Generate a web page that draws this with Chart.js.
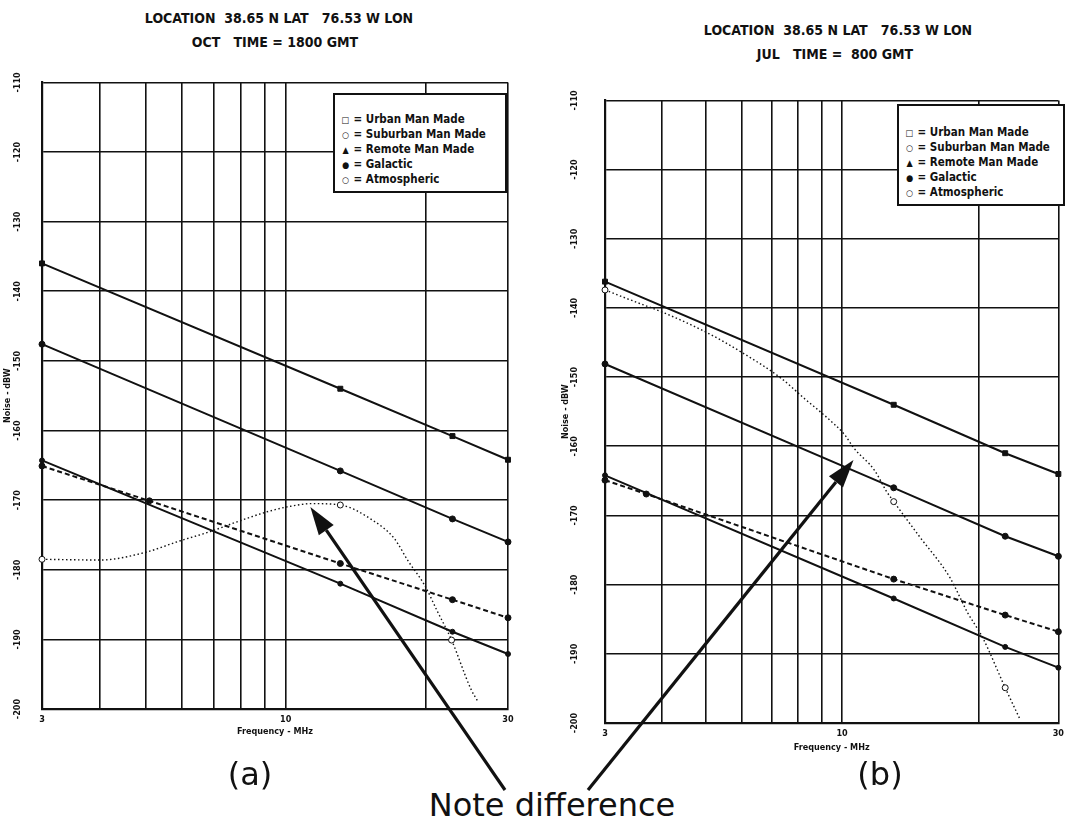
<!DOCTYPE html>
<html><head><meta charset="utf-8">
<script src="https://cdn.jsdelivr.net/npm/chart.js@4.4.0/dist/chart.umd.min.js"></script>
<style>
body{margin:0;background:#fff;width:1069px;height:834px;position:relative;overflow:hidden;font-family:"DejaVu Sans Condensed","Liberation Sans Narrow",sans-serif;color:#111;}
.wrap{position:absolute;}
.title{position:absolute;font-weight:bold;font-size:14px;white-space:pre;text-align:center;width:400px;}
.legend{position:absolute;background:#fff;border:2px solid #111;font-weight:bold;font-size:11.5px;line-height:14px;white-space:pre;box-sizing:border-box;padding-left:6px;}
.legend .s{font-size:9px;display:inline-block;width:9px;text-align:center;}
.cap{position:absolute;font-family:"DejaVu Sans",sans-serif;font-size:32px;white-space:pre;text-align:center;}
svg{position:absolute;left:0;top:0;pointer-events:none;}
</style></head><body>

<div class="title" style="left:79px;top:10px;">LOCATION  38.65 N LAT   76.53 W LON</div>
<div class="title" style="left:75px;top:34px;">OCT   TIME = 1800 GMT</div>
<div class="title" style="left:638px;top:22px;">LOCATION  38.65 N LAT   76.53 W LON</div>
<div class="title" style="left:635px;top:46px;">JUL   TIME =  800 GMT</div>

<div class="wrap" style="left:0px;top:63px;width:520px;height:700px;"><canvas id="chartA" width="520" height="700"></canvas></div>
<div class="wrap" style="left:560px;top:75px;width:509px;height:700px;"><canvas id="chartB" width="509" height="700"></canvas></div>

<div class="legend" style="left:333px;top:93px;width:174px;height:100px;padding-top:17px;"><span class="s">□</span> = Urban Man Made
<span class="s">○</span> = Suburban Man Made
<span class="s">▲</span> = Remote Man Made
<span class="s">●</span> = Galactic
<span class="s">○</span> = Atmospheric</div>
<div class="legend" style="left:897px;top:104px;width:168px;height:102px;padding-top:19px;"><span class="s">□</span> = Urban Man Made
<span class="s">○</span> = Suburban Man Made
<span class="s">▲</span> = Remote Man Made
<span class="s">●</span> = Galactic
<span class="s">○</span> = Atmospheric</div>

<div class="cap" style="left:200px;top:755px;width:100px;">(a)</div>
<div class="cap" style="left:830px;top:755px;width:100px;">(b)</div>
<div class="cap" style="left:352px;top:786px;width:400px;">Note difference</div>

<svg id="arrows" width="1069" height="834"></svg>

<script>
// ---- axis ticks ----
const freqTicks = [3, 4, 5, 6, 7, 8, 9, 10, 20, 30];
const freqLabels = [3, 10, 30];
const dbwTicks = [-110, -120, -130, -140, -150, -160, -170, -180, -190, -200];

// ---- chart (a): OCT, 1800 GMT ----
const manMadeFreqA = [3, 13.1, 22.8, 30];
const urbanA = [-136.0, -154.0, -160.8, -164.2];
const suburbanA = [-147.6, -165.8, -172.7, -176.0];
const remoteA = [-164.3, -182.0, -188.9, -192.1];
const galacticFreqA = [3, 5.1, 13.1, 22.8, 30];
const galacticA = [-165.1, -170.1, -179.1, -184.3, -186.9];
const atmosFreqA = [3.0, 4.0, 5.0, 5.9, 6.9, 7.8, 9.1, 10.2, 11.4, 13.1, 15.3, 17.1, 18.3, 19.9, 21.1, 22.7, 25.0, 25.9];
const atmosA = [-178.5, -178.6, -177.5, -175.9, -174.5, -173.2, -171.7, -170.9, -170.5, -170.7, -172.8, -175.5, -178.7, -182.3, -185.8, -190.1, -197.2, -199.0];

// ---- chart (b): JUL, 800 GMT ----
const manMadeFreqB = [3, 13.0, 22.9, 30];
const urbanB = [-136.2, -154.0, -161.0, -164.0];
const suburbanB = [-148.1, -166.0, -173.0, -175.9];
const remoteB = [-164.2, -182.0, -189.0, -192.0];
const galacticFreqB = [3, 3.7, 13.0, 22.9, 30];
const galacticB = [-164.9, -166.9, -179.2, -184.4, -186.8];
const atmosFreqB = [3.0, 3.4, 4.08, 5.08, 6.0, 7.35, 8.26, 9.28, 10.15, 10.6, 11.8, 12.5, 13.0, 14.8, 17.3, 18.9, 20.4, 22.9, 24.7];
const atmosB = [-137.4, -138.8, -140.8, -143.7, -146.4, -150.2, -153.1, -155.9, -158.4, -160.2, -163.5, -166.4, -168.0, -173.0, -179.0, -184.0, -187.6, -194.9, -199.5];

// ---- styling (not data) ----
const atmosMarkIdxA = [0, 9, 15];
const atmosMarkIdxB = [0, 12, 17];
const INK = '#111';
const tickFont = {family: '"DejaVu Sans Condensed","Liberation Sans Narrow",sans-serif', size: 9, weight: 'bold'};

function pts(xs, ys) { return xs.map((x, i) => ({x: x, y: ys[i]})); }

function datasets(mmF, urb, sub, rem, galF, gal, atF, at, marks) {
  const base = {borderColor: INK, backgroundColor: INK, pointBorderColor: INK, pointBackgroundColor: INK,
                borderWidth: 2, pointRadius: 3, pointBorderWidth: 1, tension: 0, fill: false, clip: 6};
  return [
    Object.assign({}, base, {label: 'Urban Man Made', data: pts(mmF, urb), pointStyle: 'rect', pointRadius: 3.5}),
    Object.assign({}, base, {label: 'Suburban Man Made', data: pts(mmF, sub), pointStyle: 'circle'}),
    Object.assign({}, base, {label: 'Remote Man Made', data: pts(mmF, rem), pointStyle: 'circle', pointRadius: 2.5}),
    Object.assign({}, base, {label: 'Galactic', data: pts(galF, gal), borderDash: [5, 3], pointStyle: 'circle'}),
    Object.assign({}, base, {label: 'Atmospheric', data: pts(atF, at), borderWidth: 1.4, borderDash: [1.5, 2.5],
      cubicInterpolationMode: 'monotone', pointBackgroundColor: '#fff',
      pointRadius: ctx => marks.includes(ctx.dataIndex) ? 3 : 0})
  ];
}

function makeChart(id, dsets, o) {
  return new Chart(document.getElementById(id), {
    type: 'line',
    data: {datasets: dsets},
    options: {
      responsive: false, animation: false, devicePixelRatio: 1,
      layout: {padding: {top: o.padTop, right: o.padRight, left: 0, bottom: 0}},
      plugins: {legend: {display: false}, tooltip: {enabled: false}},
      scales: {
        x: {
          type: 'logarithmic', min: 3, max: 30,
          afterBuildTicks: s => { s.ticks = freqTicks.map(v => ({value: v})); },
          afterFit: s => { s.height = o.xHeight; },
          grid: {color: INK, lineWidth: 1.6, drawTicks: false},
          border: {display: true, color: INK, width: 2.2},
          ticks: {autoSkip: false, maxRotation: 0, minRotation: 0, padding: o.xTickPad, color: INK, font: tickFont,
                  callback: v => freqLabels.includes(v) ? String(v) : ''},
          title: {display: true, text: 'Frequency - MHz', color: INK, font: tickFont, padding: {top: 0, bottom: o.xTitlePad}}
        },
        y: {
          type: 'linear', min: -200, max: -110,
          afterBuildTicks: s => { s.ticks = dbwTicks.map(v => ({value: v})); },
          afterFit: s => { s.width = o.yWidth; },
          grid: {color: INK, lineWidth: 1.6, drawTicks: false},
          border: {display: true, color: INK, width: 2.2},
          ticks: {minRotation: 90, maxRotation: 90, crossAlign: 'center', padding: o.yTickPad, color: INK, font: tickFont,
                  callback: v => String(v)},
          title: {display: true, text: 'Noise - dBW', color: INK, font: tickFont, padding: {top: o.yTitlePad, bottom: 0}}
        }
      }
    }
  });
}

const chartA = makeChart('chartA',
  datasets(manMadeFreqA, urbanA, suburbanA, remoteA, galacticFreqA, galacticA, atmosFreqA, atmosA, atmosMarkIdxA),
  {padTop: 12, padRight: 12, xHeight: 54, yWidth: 42, xTickPad: 5, xTitlePad: 26, yTickPad: 14, yTitlePad: 2});
const chartB = makeChart('chartB',
  datasets(manMadeFreqB, urbanB, suburbanB, remoteB, galacticFreqB, galacticB, atmosFreqB, atmosB, atmosMarkIdxB),
  {padTop: 12, padRight: 7, xHeight: 52, yWidth: 45, xTickPad: 5, xTitlePad: 22, yTickPad: 20, yTitlePad: 0});

// ---- "Note difference" arrows: tips in data units, tails near the caption ----
const arrowNotes = [
  {chart: chartA, offX: 0, offY: 63, tipFreq: 11.3, tipDbw: -171.0, tailX: 505, tailY: 790},
  {chart: chartB, offX: 560, offY: 75, tipFreq: 10.6, tipDbw: -162.0, tailX: 588, tailY: 790}
];
const svg = document.getElementById('arrows');
let html = '';
arrowNotes.forEach(a => {
  const tx = a.offX + a.chart.scales.x.getPixelForValue(a.tipFreq);
  const ty = a.offY + a.chart.scales.y.getPixelForValue(a.tipDbw);
  const dx = tx - a.tailX, dy = ty - a.tailY, L = Math.hypot(dx, dy);
  const ux = dx / L, uy = dy / L, hl = 28, hw = 9;
  const bx = tx - ux * hl, by = ty - uy * hl;
  html += `<line x1="${a.tailX}" y1="${a.tailY}" x2="${bx}" y2="${by}" stroke="#111" stroke-width="3.2"/>`;
  html += `<polygon points="${tx},${ty} ${bx - uy * hw},${by + ux * hw} ${bx + uy * hw},${by - ux * hw}" fill="#111"/>`;
});
svg.innerHTML = html;
</script>
</body></html>
